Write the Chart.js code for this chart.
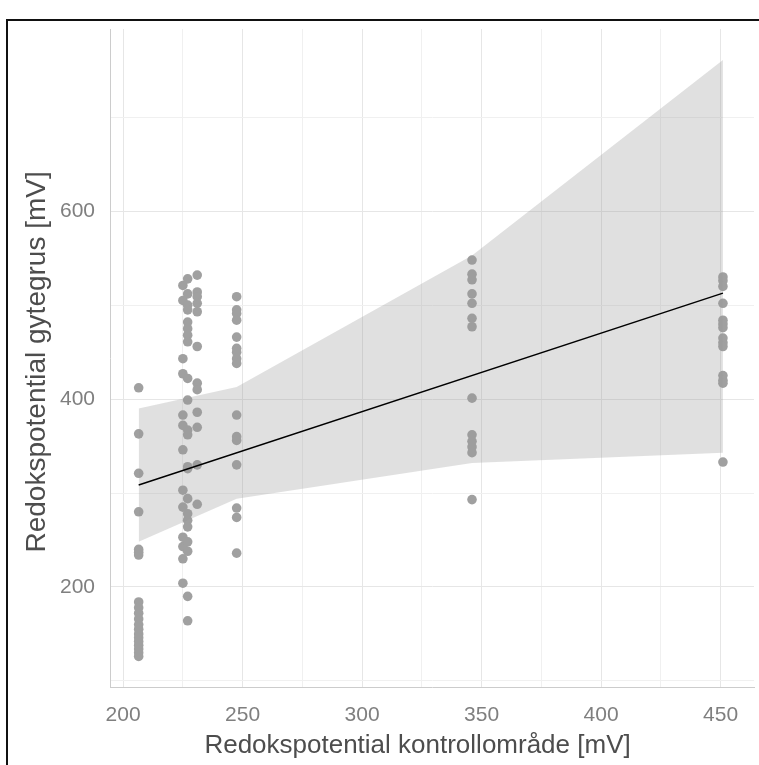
<!DOCTYPE html>
<html>
<head>
<meta charset="utf-8">
<title>Redokspotential</title>
<script src="https://cdn.jsdelivr.net/npm/chart.js@4.4.0/dist/chart.umd.min.js"></script>
<style>
  html, body { margin: 0; padding: 0; background: #fff; overflow: hidden; }
  #wrap { position: relative; width: 759px; height: 765px; }
  #chart { position: absolute; left: 0; top: 0; }
  #frame {
    position: absolute; left: 6px; top: 19px; width: 800px; height: 800px;
    border: 2px solid #111; box-sizing: border-box; pointer-events: none;
  }
</style>
</head>
<body>
<div id="wrap">
  <canvas id="chart" width="759" height="765"></canvas>
  <div id="frame"></div>
</div>
<script>
// x positions of the measurement groups (kontrollområde, mV)
const groupX = [206.5, 225, 227, 231, 247.5, 346, 451];

// gytegrus values read per group
const y207 = [412, 363, 321, 280, 240, 237, 234, 184, 178, 172, 166, 160, 155, 150, 146, 142, 138, 134, 130, 126];
const y225 = [521, 505, 443, 427, 383, 372, 346, 303, 285, 253, 243, 230, 204];
const y227 = [528, 512, 500, 495, 482, 475, 468, 461, 422, 399, 367, 362, 328, 326, 294, 278, 271, 264, 248, 238, 190, 164];
const y231 = [532, 514, 509, 502, 493, 456, 417, 410, 386, 370, 330, 288];
const y248 = [509, 495, 491, 484, 466, 454, 450, 443, 438, 383, 360, 356, 330, 284, 274, 236];
const y346 = [548, 533, 527, 512, 502, 486, 477, 401, 362, 355, 349, 343, 293];
const y451 = [530, 526, 520, 502, 484, 480, 476, 465, 460, 456, 425, 420, 417, 333];

// fitted line and confidence band
const fitX = [206.5, 451];
const fitY = [308.5, 512.8];
const bandX = [206.5, 247.5, 346, 451];
const bandLow = [248, 294, 332, 343];
const bandHigh = [390, 413, 553, 761];

// grid / tick values
const xTicks = [200, 225, 250, 275, 300, 325, 350, 375, 400, 425, 450];
const yTicks = [100, 200, 300, 400, 500, 600, 700];

const groups = [y207, y225, y227, y231, y248, y346, y451];
const points = [];
groups.forEach((ys, i) => {
    ys.forEach(v => points.push({ x: groupX[i], y: v }));
});

const toXY = (xs, ys) => xs.map((x, i) => ({ x: x, y: ys[i] }));

const tickColor = '#7f7f7f';
const titleColor = '#4d4d4d';
const fontFamily = "'Liberation Sans', Arial, sans-serif";

new Chart(document.getElementById('chart'), {
    type: 'scatter',
    data: {
        datasets: [
            {
                type: 'line',
                data: toXY(fitX, fitY),
                borderColor: '#000',
                borderWidth: 1.5,
                pointRadius: 0,
                fill: false,
                order: 0
            },
            {
                type: 'line',
                data: toXY(bandX, bandHigh),
                borderWidth: 0,
                borderColor: 'rgba(0,0,0,0)',
                backgroundColor: 'rgba(153,153,153,0.3)',
                pointRadius: 0,
                fill: '+1',
                order: 1
            },
            {
                type: 'line',
                data: toXY(bandX, bandLow),
                borderWidth: 0,
                borderColor: 'rgba(0,0,0,0)',
                pointRadius: 0,
                fill: false,
                order: 1
            },
            {
                data: points,
                pointRadius: 4.8,
                pointBackgroundColor: '#a0a0a0',
                pointBorderWidth: 0,
                order: 2
            }
        ]
    },
    options: {
        responsive: false,
        animation: false,
        devicePixelRatio: 1,
        layout: { padding: { left: 0, right: 5, top: 29, bottom: 0 } },
        plugins: {
            legend: { display: false },
            tooltip: { enabled: false }
        },
        scales: {
            x: {
                type: 'linear',
                min: 194.5,
                max: 464,
                afterBuildTicks: s => { s.ticks = xTicks.map(v => ({ value: v })); },
                afterFit: s => { s.height = 78; },
                ticks: {
                    autoSkip: false,
                    maxRotation: 0,
                    padding: 16,
                    color: tickColor,
                    font: { family: fontFamily, size: 21 },
                    callback: v => (v % 50 === 0 ? v : '')
                },
                grid: {
                    drawTicks: false,
                    lineWidth: 1,
                    color: ctx => (ctx.tick && ctx.tick.value % 50 === 0 ? '#e6e6e6' : '#f0f0f0')
                },
                border: { display: true, color: '#cccccc', width: 1 },
                title: {
                    display: true,
                    // trailing spaces pull the centred title a little to the left, as in the original
                    text: 'Redokspotential kontrollområde [mV]\u00a0\u00a0\u00a0\u00a0',
                    color: titleColor,
                    font: { family: fontFamily, size: 26 },
                    padding: { top: 4, bottom: 4 }
                }
            },
            y: {
                type: 'linear',
                min: 93.5,
                max: 794,
                afterBuildTicks: s => { s.ticks = yTicks.map(v => ({ value: v })); },
                afterFit: s => { s.width = 110; },
                ticks: {
                    autoSkip: false,
                    padding: 15,
                    color: tickColor,
                    font: { family: fontFamily, size: 21 },
                    callback: v => (v % 200 === 0 ? v : '')
                },
                grid: {
                    drawTicks: false,
                    lineWidth: 1,
                    color: ctx => (ctx.tick && ctx.tick.value % 200 === 0 ? '#e6e6e6' : '#f0f0f0')
                },
                border: { display: true, color: '#cccccc', width: 1 },
                title: {
                    display: true,
                    text: 'Redokspotential gytegrus [mV]\u00a0',
                    color: titleColor,
                    font: { family: fontFamily, size: 28 },
                    padding: { top: 20, bottom: 20 }
                }
            }
        }
    }
});
</script>
</body>
</html>
